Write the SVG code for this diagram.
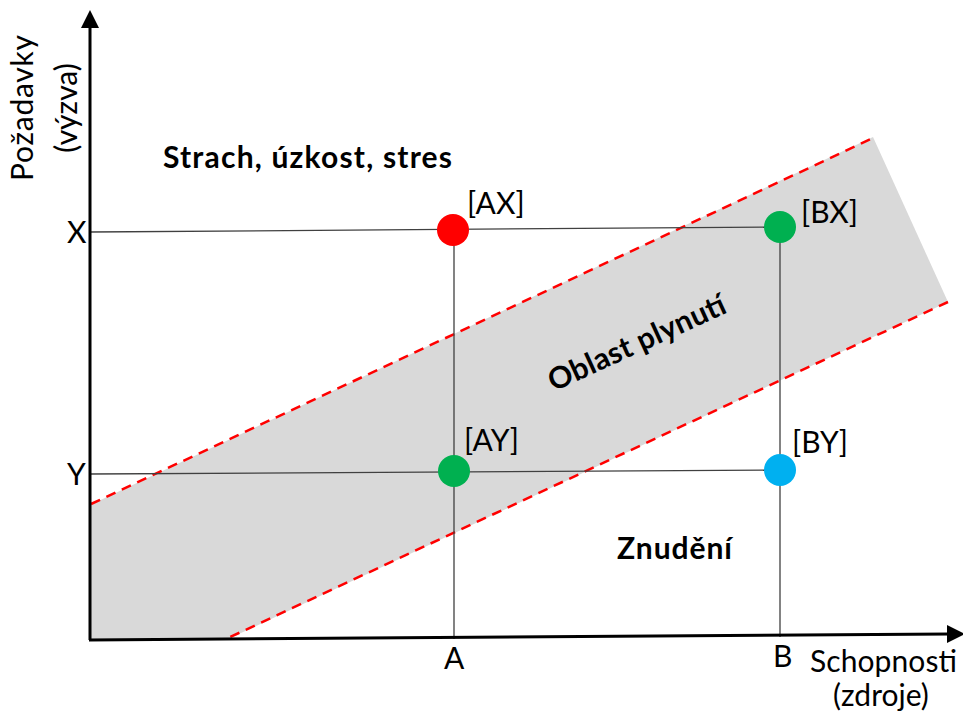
<svg xmlns="http://www.w3.org/2000/svg" width="963" height="720" viewBox="0 0 963 720">
  <defs>
    <style>
      .lbl { font-family: Lato, "Liberation Sans", sans-serif; font-size: 30px; fill: #000; }
      .zone { font-family: Lato, "Liberation Sans", sans-serif; font-size: 30px; font-weight: bold; fill: #000; }
      .guide { stroke: #404040; stroke-width: 1.3; fill: none; }
      .axis { stroke: #000; stroke-width: 3; fill: none; }
      .edge { stroke: #ff0000; stroke-width: 2.5; stroke-dasharray: 10 7; fill: none; }
    </style>
  </defs>
  <rect width="963" height="720" fill="#fff"/>

  <!-- flow channel -->
  <g id="flow-band">
    <polygon points="90,505 873,137 948,302 226,640 90,640" fill="#d9d9d9"/>
    <line class="edge" x1="91" y1="504" x2="873" y2="138"/>
    <line class="edge" x1="948" y1="302" x2="226" y2="639"/>
  </g>

  <!-- guide lines -->
  <g id="connectors">
    <line class="guide" x1="90" y1="232" x2="780" y2="227"/>
    <line class="guide" x1="90" y1="474" x2="780" y2="470"/>
    <line class="guide" x1="454" y1="230" x2="454" y2="639"/>
    <line class="guide" x1="780" y1="227" x2="780" y2="637"/>
  </g>

  <!-- axes -->
  <g id="axes">
    <line class="axis" x1="90" y1="640" x2="90" y2="26"/>
    <polygon points="90,10 81,28 99,28" fill="#000"/>
    <line class="axis" x1="89" y1="640" x2="950" y2="634"/>
    <polygon points="965,634 947,625 947,643" fill="#000"/>
  </g>

  <g id="axis-labels">
    <text class="lbl" transform="translate(33,108) rotate(-90)" text-anchor="middle" textLength="146">Požadavky</text>
    <text class="lbl" transform="translate(77,108) rotate(-90)" text-anchor="middle">(výzva)</text>
    <text class="lbl" x="810" y="672" textLength="147">Schopnosti</text>
    <text class="lbl" x="833" y="706">(zdroje)</text>
    <text class="lbl" x="67" y="243">X</text>
    <text class="lbl" x="67" y="485">Y</text>
    <text class="lbl" x="444" y="669">A</text>
    <text class="lbl" x="773" y="667">B</text>
  </g>

  <g id="zone-labels">
    <text class="zone" x="163" y="168" textLength="289">Strach, úzkost, stres</text>
    <text class="zone" x="617" y="559" textLength="115">Znudění</text>
    <text class="zone" transform="translate(641,352) rotate(-24.5)" text-anchor="middle" textLength="192">Oblast plynutí</text>
  </g>

  <g id="AX">
    <circle cx="453" cy="230" r="16" fill="#ff0000"/>
    <text class="lbl" x="467" y="214">[AX]</text>
  </g>
  <g id="BX">
    <circle cx="780" cy="227" r="16" fill="#00b050"/>
    <text class="lbl" x="801" y="223">[BX]</text>
  </g>
  <g id="AY">
    <circle cx="454" cy="471" r="16" fill="#00b050"/>
    <text class="lbl" x="464" y="451">[AY]</text>
  </g>
  <g id="BY">
    <circle cx="780" cy="470" r="16" fill="#00b0f0"/>
    <text class="lbl" x="792" y="453">[BY]</text>
  </g>
</svg>
